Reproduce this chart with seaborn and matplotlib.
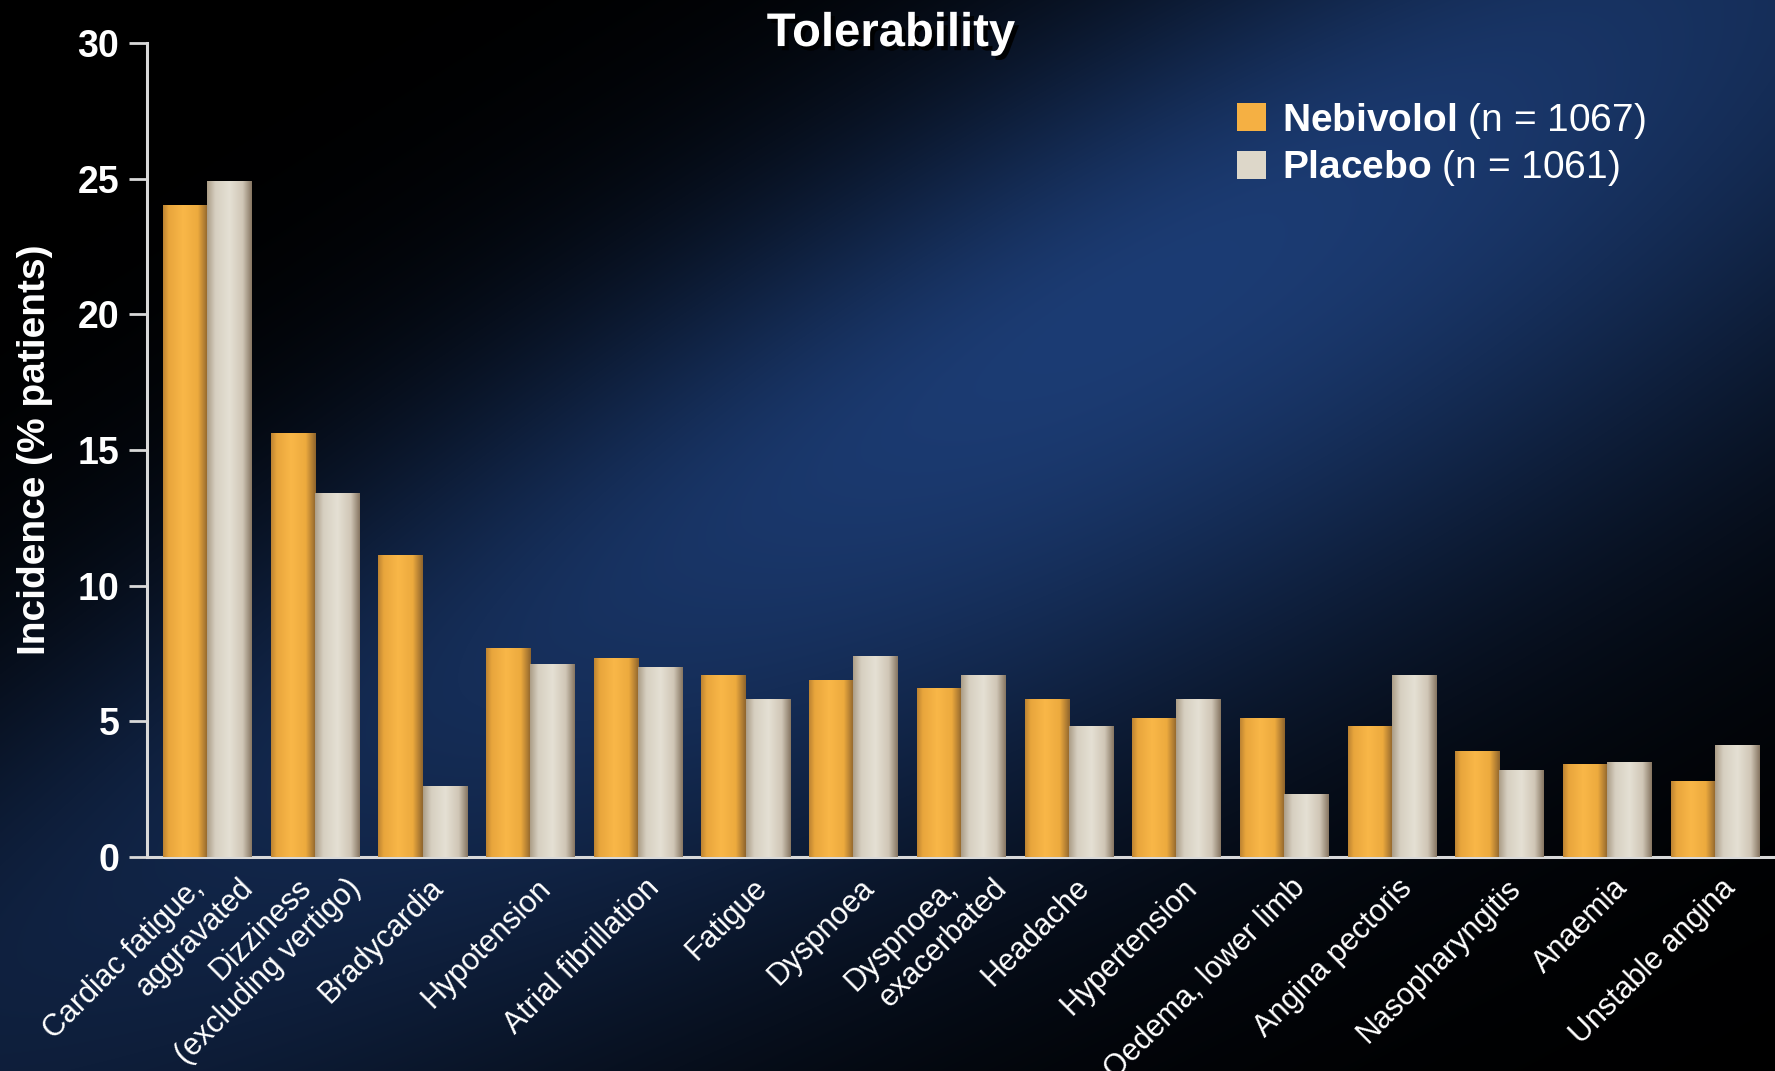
import numpy as np
import pandas as pd
import matplotlib
matplotlib.use("Agg")
import matplotlib.pyplot as plt
import matplotlib.patheffects as pe
import matplotlib.transforms as mtransforms
from matplotlib.patches import Patch
import seaborn as sns

# ---- data -------------------------------------------------------------
categories = [
    "Cardiac fatigue,\naggravated", "Dizziness\n(excluding vertigo)", "Bradycardia",
    "Hypotension", "Atrial fibrillation", "Fatigue", "Dyspnoea", "Dyspnoea,\nexacerbated",
    "Headache", "Hypertension", "Oedema, lower limb", "Angina pectoris",
    "Nasopharyngitis", "Anaemia", "Unstable angina",
]
nebivolol = [24.0, 15.6, 11.1, 7.7, 7.3, 6.7, 6.5, 6.2, 5.8, 5.1, 5.1, 4.8, 3.9, 3.4, 2.8]
placebo = [24.9, 13.4, 2.6, 7.1, 7.0, 5.8, 7.4, 6.7, 4.8, 5.8, 2.3, 6.7, 3.2, 3.5, 4.1]
groups = ["Nebivolol", "Placebo"]
group_sizes = [1067, 1061]
yticks = [0, 5, 10, 15, 20, 25, 30]

# ---- style ------------------------------------------------------------
sns.set_style("ticks")
plt.rcParams["font.family"] = ["Liberation Sans", "DejaVu Sans"]
plt.rcParams["mathtext.fontset"] = "custom"
plt.rcParams["mathtext.rm"] = "Liberation Sans"
plt.rcParams["mathtext.bf"] = "Liberation Sans:bold"

ORANGE = "#f5b043"
BEIGE = "#ddd7c9"
AXIS = "#d9d9d9"

W, H, DPI = 1775, 1071, 100
fig = plt.figure(figsize=(W / DPI, H / DPI), dpi=DPI, facecolor="black")

# dark slide background with a diagonal blue glow
bg = fig.add_axes([0, 0, 1, 1], zorder=-10)
yy, xx = np.mgrid[0:H, 0:W]
X = xx / W
Y = yy / H
s = X + Y
t = X - Y
width = np.where(s < 0.92, 0.30, 0.47)
band = np.exp(-((s - 0.92) / width) ** 2)
along = 0.45 + 0.55 * np.exp(-((t - 0.35) / 0.95) ** 2)
glow = (band * along)[..., None] * (np.array([28, 60, 116]) / 255.0)
bg.imshow(glow, extent=(0, 1, 0, 1), aspect="auto", interpolation="bilinear")
bg.set_axis_off()

ax = fig.add_axes([0.0828, 0.1998, 1 - 0.0828, 0.96 - 0.1998])
ax.set_facecolor("none")

df = pd.DataFrame({
    "event": categories * 2,
    "incidence": nebivolol + placebo,
    "group": [groups[0]] * len(categories) + [groups[1]] * len(categories),
})
sns.barplot(data=df, x="event", y="incidence", hue="group", hue_order=groups,
            palette=[ORANGE, BEIGE], saturation=1, width=0.82, errorbar=None,
            legend=False, ax=ax, linewidth=0, zorder=2)

# cylinder-like shading across each bar
def shade(stops):
    pos = np.linspace(0, 1, 64)
    cols = np.array([c for _, c in stops], dtype=float) / 255.0
    p = np.array([q for q, _ in stops])
    return np.stack([np.interp(pos, p, cols[:, k]) for k in range(3)], axis=-1)[None, :, :]

orange_grad = shade([(0.0, (190, 132, 50)), (0.12, (232, 165, 60)), (0.45, (249, 183, 72)),
                     (0.78, (236, 170, 62)), (1.0, (145, 102, 45))])
beige_grad = shade([(0.0, (172, 158, 136)), (0.18, (214, 207, 192)), (0.5, (229, 224, 212)),
                    (0.8, (208, 198, 182)), (1.0, (136, 120, 100))])

for container, grad in zip(ax.containers, [orange_grad, beige_grad]):
    for bar in container:
        x0, w = bar.get_x(), bar.get_width()
        h = bar.get_height()
        ax.imshow(grad, extent=(x0, x0 + w, 0, h), aspect="auto",
                  interpolation="bilinear", zorder=3)

ax.set_xlim(-0.56, len(categories) - 1 + 0.56)
ax.set_ylim(0, 30)
ax.set_yticks(yticks)

for side in ["top", "right"]:
    ax.spines[side].set_visible(False)
for side in ["left", "bottom"]:
    ax.spines[side].set_color(AXIS)
    ax.spines[side].set_linewidth(2.2)

ax.tick_params(axis="y", colors=AXIS, length=13, width=2, pad=7,
               labelsize=27, labelcolor="white")
ax.tick_params(axis="x", length=0, labelbottom=False)
for lab in ax.get_yticklabels():
    lab.set_fontweight("bold")

# slanted category labels; wrapped labels are stepped line by line
end_dx, end_dy = 6, -16          # px from category centre / axis to label end
step_dx, step_dy = 50, 0         # px between consecutive lines of one label
xaxis_tr = ax.get_xaxis_transform()
for i, cat in enumerate(categories):
    lines = cat.split("\n")
    n = len(lines)
    for k, line in enumerate(lines):
        f = k - (n - 1) / 2
        dx = (end_dx + f * step_dx) / DPI
        dy = (end_dy + f * step_dy) / DPI
        tr = xaxis_tr + mtransforms.ScaledTranslation(dx, dy, fig.dpi_scale_trans)
        ax.text(i, 0, line, transform=tr, rotation=45, rotation_mode="anchor",
                ha="right", va="top", fontsize=22, color="white")

ax.set_xlabel("")
ax.set_ylabel("Incidence (% patients)", fontsize=28, fontweight="bold", color="white")
ax.yaxis.set_label_coords(-0.058, 0.5)

fig.text(0.502, 0.957, "Tolerability", ha="center", va="baseline", fontsize=34,
         fontweight="bold", color="white",
         path_effects=[pe.SimplePatchShadow(offset=(3, -3), shadow_rgbFace="black", alpha=0.9),
                       pe.Normal()])

handles = [Patch(facecolor=ORANGE, edgecolor="none"), Patch(facecolor=BEIGE, edgecolor="none")]
labels = [rf"$\mathbf{{{g}}}$ (n = {n})" for g, n in zip(groups, group_sizes)]
leg = fig.legend(handles, labels, loc="upper left", bbox_to_anchor=(0.697, 0.906),
                 frameon=False, fontsize=28, handlelength=0.75, handleheight=0.75,
                 handletextpad=0.4, labelspacing=0.2, borderpad=0, borderaxespad=0)
for txt in leg.get_texts():
    txt.set_color("white")

fig.savefig("out.png", dpi=DPI, facecolor=fig.get_facecolor())
